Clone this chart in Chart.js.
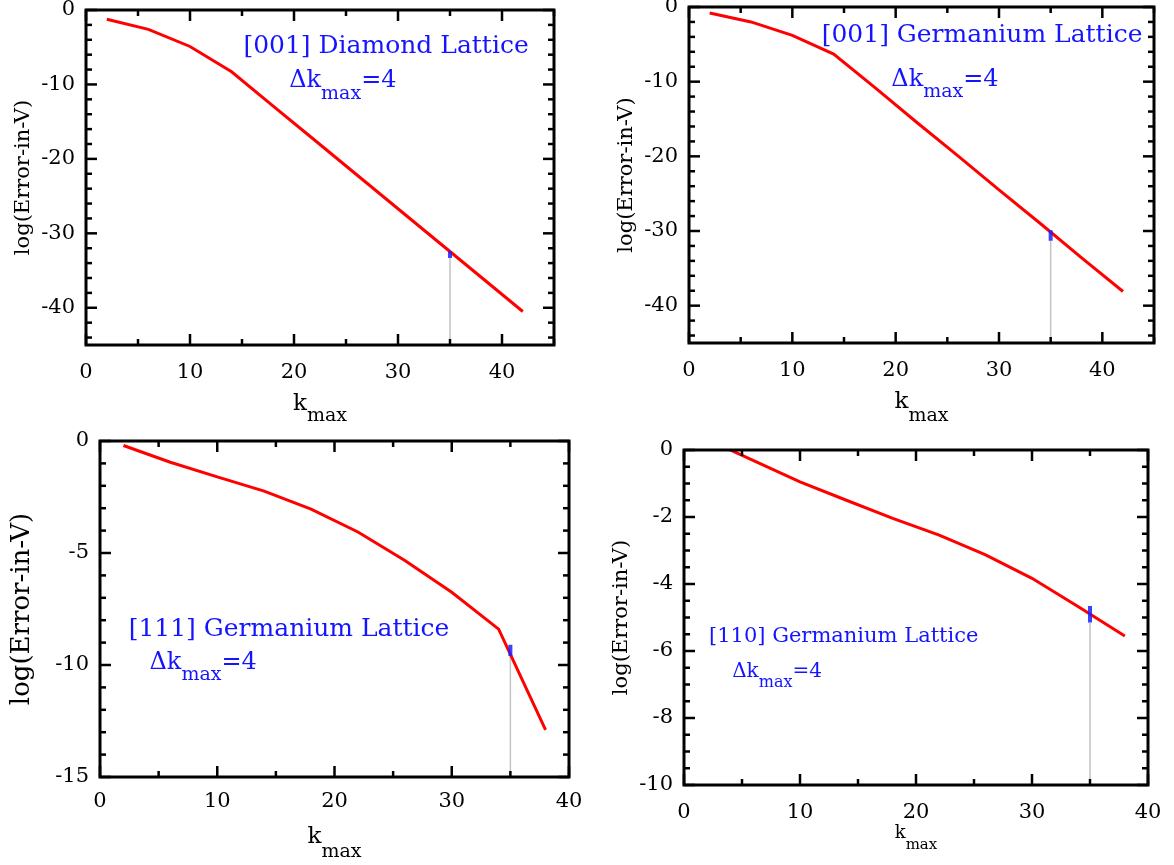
<!DOCTYPE html>
<html>
<head>
<meta charset="utf-8">
<title>log(Error-in-V) vs k_max</title>
<script src="https://cdn.jsdelivr.net/npm/chart.js@4.4.1/dist/chart.umd.min.js"></script>
<style>
  body { margin: 0; background: #fff; }
  .panel { position: absolute; }
</style>
</head>
<body>
<div class="panel" style="left:0;top:0;width:587px;height:430px"><canvas id="c1"></canvas></div>
<div class="panel" style="left:587px;top:0;width:587px;height:430px"><canvas id="c2"></canvas></div>
<div class="panel" style="left:0;top:430px;width:587px;height:435px"><canvas id="c3"></canvas></div>
<div class="panel" style="left:587px;top:430px;width:587px;height:435px"><canvas id="c4"></canvas></div>
<script>
// k_max values, step 4
const kLong = [2, 6, 10, 14, 18, 22, 26, 30, 34, 38, 42];
const kShort = [2, 6, 10, 14, 18, 22, 26, 30, 34, 38];

// log(Error-in-V)
const errDiamond001 = [-1.25, -2.6, -4.9, -8.3, -12.9, -17.5, -22.1, -26.7, -31.3, -35.9, -40.5];
const errGe001 = [-0.8, -2.0, -3.8, -6.3, -10.8, -15.4, -19.9, -24.5, -29.0, -33.6, -38.1];
const errGe111 = [-0.2, -0.95, -1.6, -2.24, -3.04, -4.06, -5.33, -6.75, -8.4, -12.9];
const errGe110 = [0.32, -0.32, -0.95, -1.5, -2.04, -2.54, -3.13, -3.83, -4.68, -5.55];

// marked k_max and the small blue bar (top, bottom) on each curve
const markK = 35;
const markDiamond001 = [-32.4, -33.3];
const markGe001 = [-29.9, -31.3];
const markGe111 = [-9.1, -9.6];
const markGe110 = [-4.66, -5.15];

// tick labels
const xTicks = [0, 10, 20, 30, 40];
const yTicksTop = [0, -10, -20, -30, -40];
const yTicks111 = [0, -5, -10, -15];
const yTicks110 = [0, -2, -4, -6, -8, -10];

const serif = "'DejaVu Serif', serif";
const blue = '#1414ff';

function drawParts(ctx, parts, cx, base) {
  let total = 0;
  const w = parts.map(p => {
    ctx.font = p.size + 'px ' + serif;
    const m = ctx.measureText(p.t).width;
    total += m;
    return m;
  });
  let x = cx - total / 2;
  parts.forEach((p, i) => {
    ctx.font = p.size + 'px ' + serif;
    ctx.fillText(p.t, x, base + (p.dy || 0));
    x += w[i];
  });
}

const isTick = (list, v) => list.some(t => Math.abs(t - v) < 1e-6);

// box, inward ticks on all sides, k_max title and notes
const decor = {
  id: 'decor',
  afterDatasetsDraw(chart, args, o) {
    const { ctx, chartArea: a, scales: { x, y } } = chart;
    ctx.save();
    ctx.strokeStyle = '#000';
    ctx.lineWidth = 2.5;
    const seg = (x1, y1, x2, y2) => { ctx.beginPath(); ctx.moveTo(x1, y1); ctx.lineTo(x2, y2); ctx.stroke(); };
    for (let v = x.min; v <= x.max + 1e-6; v += o.xMinor) {
      const len = isTick(o.xTicks, v) ? 11 : 6;
      const px = x.getPixelForValue(v);
      seg(px, a.bottom, px, a.bottom - len);
      seg(px, a.top, px, a.top + len);
    }
    for (let v = y.max; v >= y.min - 1e-6; v -= o.yMinor) {
      const len = isTick(o.yTicks, v) ? 11 : 6;
      const py = y.getPixelForValue(v);
      seg(a.left, py, a.left + len, py);
      seg(a.right, py, a.right - len, py);
    }
    ctx.lineWidth = 3;
    ctx.strokeRect(a.left, a.top, a.right - a.left, a.bottom - a.top);

    ctx.textBaseline = 'alphabetic';
    ctx.fillStyle = '#000';
    drawParts(ctx, [
      { t: 'k', size: o.kSize },
      { t: 'max', size: o.kSub, dy: o.kDrop }
    ], (a.left + a.right) / 2, a.bottom + o.kOffset);

    ctx.fillStyle = blue;
    const n = o.note;
    drawParts(ctx, [{ t: n.text, size: n.size }],
      x.getPixelForValue(n.x), y.getPixelForValue(n.y));
    drawParts(ctx, [
      { t: '\u0394k', size: n.dkSize },
      { t: 'max', size: n.dkSub, dy: n.dkDrop },
      { t: '=4', size: n.dkSize }
    ], x.getPixelForValue(n.dkX), y.getPixelForValue(n.dkY));
    ctx.restore();
  }
};

function makePanel(id, p) {
  const curve = p.k.map((k, i) => ({ x: k, y: p.err[i] }));
  new Chart(document.getElementById(id), {
    type: 'line',
    data: {
      datasets: [
        {
          data: [{ x: markK, y: p.mark[0] }, { x: markK, y: p.mark[1] }],
          borderColor: 'rgba(30,30,255,0.85)', borderWidth: 4, pointRadius: 0
        },
        {
          data: curve,
          borderColor: '#ff0000', borderWidth: 3, pointRadius: 0, tension: 0
        },
        {
          data: [{ x: markK, y: p.mark[1] }, { x: markK, y: p.yMin }],
          borderColor: '#c4c4c4', borderWidth: 1.5, pointRadius: 0
        }
      ]
    },
    options: {
      responsive: true,
      maintainAspectRatio: false,
      animation: false,
      events: [],
      layout: { padding: { top: p.inset.top, right: p.inset.right, left: 0, bottom: 0 } },
      plugins: {
        legend: { display: false },
        tooltip: { enabled: false },
        decor: {
          xMinor: 5, yMinor: p.yMinor, xTicks: xTicks, yTicks: p.yTicks,
          kSize: p.kSize, kSub: p.kSub, kDrop: p.kDrop, kOffset: p.kOffset,
          note: p.note
        }
      },
      scales: {
        x: {
          type: 'linear', min: 0, max: p.xMax,
          afterBuildTicks: s => { s.ticks = xTicks.map(v => ({ value: v })); },
          afterFit: s => { s.height = p.inset.bottom; s.paddingLeft = 0; s.paddingRight = 0; },
          grid: { display: false, drawTicks: false },
          border: { display: false },
          ticks: { font: { family: serif, size: 21 }, color: '#000', padding: p.xPad, maxRotation: 0, autoSkip: false }
        },
        y: {
          type: 'linear', min: p.yMin, max: 0,
          afterBuildTicks: s => { s.ticks = p.yTicks.map(v => ({ value: v })); },
          afterFit: s => { s.width = p.inset.left; s.paddingTop = 0; s.paddingBottom = 0; },
          grid: { display: false, drawTicks: false },
          border: { display: false },
          ticks: { font: { family: serif, size: 21 }, color: '#000', padding: 11, autoSkip: false },
          title: {
            display: true, text: 'log(Error-in-V)', color: '#000',
            font: { family: serif, size: p.yTitleSize },
            padding: { top: p.yTitlePad, bottom: 0 }
          }
        }
      }
    },
    plugins: [decor]
  });
}

makePanel('c1', {
  k: kLong, err: errDiamond001, mark: markDiamond001,
  xMax: 45, yMin: -45, yTicks: yTicksTop, yMinor: 2,
  inset: { left: 86, top: 10, right: 33, bottom: 85 },
  xPad: 15, yTitleSize: 21, yTitlePad: 11,
  kSize: 23, kSub: 19, kDrop: 11, kOffset: 65,
  note: { text: '[001] Diamond Lattice', size: 25, x: 28.85, y: -5.78,
          dkSize: 24, dkSub: 19, dkDrop: 12, dkX: 24.7, dkY: -10.34 }
});

makePanel('c2', {
  k: kLong, err: errGe001, mark: markGe001,
  xMax: 45, yMin: -45, yTicks: yTicksTop, yMinor: 2,
  inset: { left: 102, top: 7, right: 20, bottom: 87 },
  xPad: 15, yTitleSize: 21, yTitlePad: 27,
  kSize: 23, kSub: 19, kDrop: 13, kOffset: 65,
  note: { text: '[001] Germanium Lattice', size: 25, x: 28.36, y: -4.65,
          dkSize: 24, dkSub: 19, dkDrop: 11, dkX: 24.77, dkY: -10.55 }
});

makePanel('c3', {
  k: kShort, err: errGe111, mark: markGe111,
  xMax: 40, yMin: -15, yTicks: yTicks111, yMinor: 1,
  inset: { left: 100, top: 11, right: 18, bottom: 88 },
  xPad: 12, yTitleSize: 26, yTitlePad: 7,
  kSize: 23, kSub: 19, kDrop: 14, kOffset: 66,
  note: { text: '[111] Germanium Lattice', size: 25, x: 16.12, y: -8.7,
          dkSize: 24, dkSub: 19, dkDrop: 11, dkX: 8.8, dkY: -10.19 }
});

makePanel('c4', {
  k: kShort, err: errGe110, mark: markGe110,
  xMax: 40, yMin: -10, yTicks: yTicks110, yMinor: 0.5,
  inset: { left: 97, top: 20, right: 26, bottom: 80 },
  xPad: 15, yTitleSize: 21, yTitlePad: 22,
  kSize: 18, kSub: 15, kDrop: 11, kOffset: 53,
  note: { text: '[110] Germanium Lattice', size: 21, x: 13.77, y: -5.73,
          dkSize: 20, dkSub: 16, dkDrop: 10, dkX: 8.02, dkY: -6.78 }
});
</script>
</body>
</html>
